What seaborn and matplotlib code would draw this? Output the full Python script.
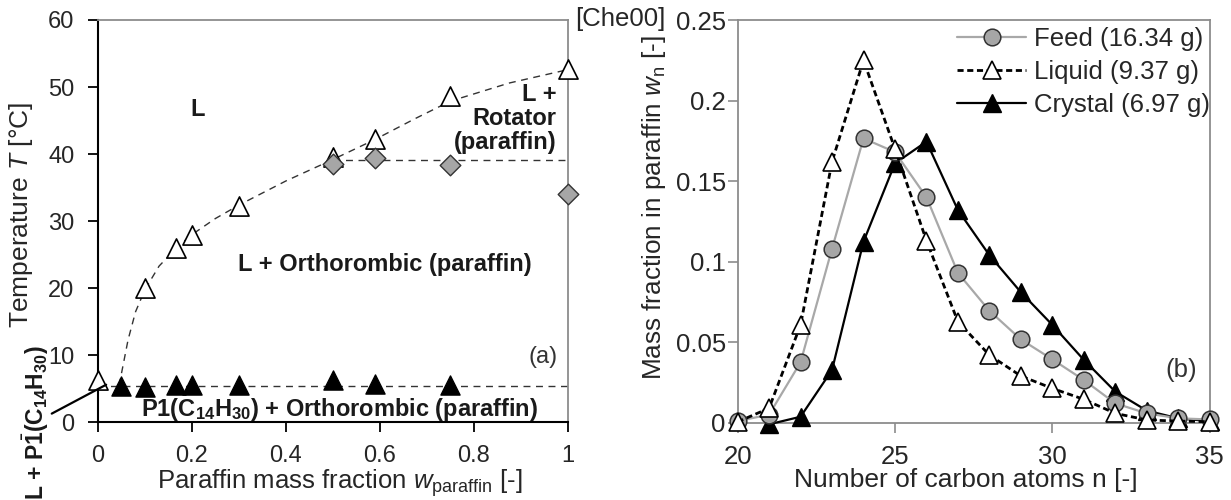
import numpy as np
import pandas as pd
import matplotlib
matplotlib.use("Agg")
import matplotlib.pyplot as plt
import seaborn as sns

# ---------------- data: panel (a) ----------------
liq_w = [0.0, 0.1, 0.167, 0.2, 0.3, 0.5, 0.59, 0.75, 1.0]
liq_T = [6.3, 20.0, 26.0, 27.9, 32.3, 39.6, 42.2, 48.6, 52.7]

rot_w = [0.5, 0.59, 0.75, 1.0]
rot_T = [38.5, 39.4, 38.3, 34.1]

sol_w = [0.05, 0.1, 0.167, 0.2, 0.3, 0.5, 0.59, 0.75]
sol_T = [5.4, 5.3, 5.6, 5.5, 5.6, 6.3, 5.7, 5.6]

# dashed liquidus guide curve
curve_w = [0.045, 0.05, 0.064, 0.08, 0.1, 0.13, 0.167, 0.2, 0.25, 0.3, 0.4, 0.5, 0.59, 0.675, 0.75, 0.875, 1.0]
curve_T = [5.5, 7.3, 12.3, 16.5, 19.8, 23.3, 26.0, 28.0, 30.4, 32.4, 36.0, 39.2, 42.2, 45.3, 47.9, 50.6, 52.6]

eutectic_w = [0.0, 1.0]
eutectic_T = [5.45, 5.45]
transition_w = [0.5, 1.0]
transition_T = [39.1, 39.1]

xticks_a = [0, 0.2, 0.4, 0.6, 0.8, 1.0]
xticklabels_a = ["0", "0.2", "0.4", "0.6", "0.8", "1"]
yticks_a = [0, 10, 20, 30, 40, 50, 60]

# ---------------- data: panel (b) ----------------
n_all = list(range(20, 36))
feed = [0.001, 0.005, 0.0375, 0.108, 0.1765, 0.168, 0.140, 0.093, 0.0695, 0.0517,
        0.0393, 0.0265, 0.012, 0.0058, 0.0027, 0.002]
liquid = [0.0005, 0.009, 0.0607, 0.162, 0.225, 0.170, 0.113, 0.0627, 0.042, 0.029,
          0.0213, 0.0145, 0.0058, 0.0017, 0.001, 0.0006]
n_cry = list(range(21, 36))
crystal = [-0.001, 0.0037, 0.0327, 0.1124, 0.161, 0.1745, 0.132, 0.104, 0.081, 0.0607,
           0.039, 0.0193, 0.0075, 0.0027, 0.001]
series_labels = ["Feed (16.34 g)", "Liquid (9.37 g)", "Crystal (6.97 g)"]

xticks_b = [20, 25, 30, 35]
yticks_b = [0, 0.05, 0.1, 0.15, 0.2, 0.25]
yticklabels_b = ["0", "0.05", "0.1", "0.15", "0.2", "0.25"]

# ---------------- style ----------------
sns.set_style("white")
plt.rcParams["font.family"] = ["Liberation Sans", "DejaVu Sans"]
plt.rcParams["mathtext.fontset"] = "custom"
plt.rcParams["mathtext.rm"] = "Liberation Sans"
plt.rcParams["mathtext.it"] = "Liberation Sans:italic"
plt.rcParams["mathtext.bf"] = "Liberation Sans:bold"

FS = 17
FSB = 18.5
GRAY_SPINE = "#8c8c8c"
MARK_GRAY = "#a6a6a6"

fig = plt.figure(figsize=(12.31, 5), dpi=100)
ax1 = fig.add_axes([0.0796, 0.1554, 0.3818, 0.8046])
ax2 = fig.add_axes([0.5992, 0.1546, 0.3835, 0.8054])

# ---------------- panel (a) ----------------
dash_kw = dict(color="#333333", lw=1.0, dashes=(5, 4), estimator=None, sort=False, legend=False)
sns.lineplot(x=eutectic_w, y=eutectic_T, ax=ax1, **dash_kw)
sns.lineplot(x=transition_w, y=transition_T, ax=ax1, **dash_kw)
sns.lineplot(x=curve_w, y=curve_T, ax=ax1, **dash_kw)

sns.scatterplot(x=liq_w, y=liq_T, ax=ax1, marker="^", s=190, facecolor="white",
                edgecolor="black", linewidth=1.2, clip_on=False, zorder=3, legend=False)
sns.scatterplot(x=rot_w, y=rot_T, ax=ax1, marker="D", s=110, facecolor=MARK_GRAY,
                edgecolor="#333333", linewidth=1.0, clip_on=False, zorder=4, legend=False)
sns.scatterplot(x=sol_w, y=sol_T, ax=ax1, marker="^", s=190, facecolor="black",
                edgecolor="black", linewidth=1.0, clip_on=False, zorder=3, legend=False)

ax1.set_xlim(0, 1)
ax1.set_ylim(0, 60)
ax1.set_xticks(xticks_a)
ax1.set_xticklabels(xticklabels_a)
ax1.set_yticks(yticks_a)
ax1.tick_params(axis="both", labelsize=FS, length=7, width=1.3, color="black", direction="out")
ax1.tick_params(axis="x", pad=9, bottom=True)
ax1.tick_params(axis="y", pad=10, left=True)
for side in ["left", "bottom"]:
    ax1.spines[side].set_color("black")
    ax1.spines[side].set_linewidth(1.5)
for side in ["top", "right"]:
    ax1.spines[side].set_color(GRAY_SPINE)
    ax1.spines[side].set_linewidth(1.3)

ax1.set_ylabel(r"Temperature $T$ [°C]", fontsize=19)
ax1.yaxis.set_label_coords(-0.135, 0.515)
ax1.set_xlabel(r"Paraffin mass fraction $w_{\mathrm{paraffin}}$ [-]", fontsize=18.5)
ax1.xaxis.set_label_coords(0.514, -0.112)

bold = dict(fontweight="bold", color="#1a1a1a")
ax1.text(0.212, 46.6, "L", ha="center", va="center", fontsize=FS, **bold)
ax1.text(0.975, 45.3, "L +\nRotator\n(paraffin)", ha="right", va="center", linespacing=1.05,
         fontsize=FS, **bold)
ax1.text(0.611, 23.5, "L + Orthorombic (paraffin)", ha="center", va="center", fontsize=FS, **bold)
ax1.text(0.515, 1.9, r"P1(C$_{\mathbf{14}}$H$_{\mathbf{30}}$) + Orthorombic (paraffin)",
         ha="center", va="center", fontsize=FS, **bold)
ax1.text(0.977, 9.8, "(a)", ha="right", va="center", fontsize=FS, color="#333333")
ax1.text(-0.133, 0.0, r"L + P$\bar{\mathbf{1}}$(C$_{\mathbf{14}}$H$_{\mathbf{30}}$)",
         rotation=90, ha="center", va="center", clip_on=False, fontsize=16.5, **bold)
ax1.annotate("", xy=(0.0226, 5.8), xytext=(-0.1036, 1.1),
             arrowprops=dict(arrowstyle="-", lw=1.6, color="black"),
             annotation_clip=False)

fig.text(575 / 1231, 0.962, "[Che00]", ha="left", va="center", fontsize=FSB)

# ---------------- panel (b) ----------------
df_feed = pd.DataFrame({"n": n_all, "w": feed})
df_liq = pd.DataFrame({"n": n_all, "w": liquid})
df_cry = pd.DataFrame({"n": n_cry, "w": crystal})

sns.lineplot(data=df_cry, x="n", y="w", ax=ax2, color="black", lw=1.6,
             marker="^", markersize=13, markerfacecolor="black", markeredgecolor="black",
             markeredgewidth=1.0, clip_on=False, zorder=3, estimator=None, legend=False)
line_cry = ax2.lines[-1]
sns.lineplot(data=df_feed, x="n", y="w", ax=ax2, color="#a8a8a8", lw=1.6,
             marker="o", markersize=12, markerfacecolor=MARK_GRAY, markeredgecolor="#333333",
             markeredgewidth=1.1, clip_on=False, zorder=4, estimator=None, legend=False)
line_feed = ax2.lines[-1]
sns.lineplot(data=df_liq, x="n", y="w", ax=ax2, color="black", lw=2.0, dashes=(2.2, 1.3),
             marker="^", markersize=13, markerfacecolor="white", markeredgecolor="black",
             markeredgewidth=1.2, clip_on=False, zorder=5, estimator=None, legend=False)
line_liq = ax2.lines[-1]

ax2.set_xlim(20, 35)
ax2.set_ylim(0, 0.25)
ax2.set_xticks(xticks_b)
ax2.set_yticks(yticks_b)
ax2.set_yticklabels(yticklabels_b)
ax2.tick_params(axis="both", labelsize=FSB, length=7, width=1.2, color=GRAY_SPINE, direction="out")
ax2.tick_params(axis="x", pad=9, bottom=True)
ax2.tick_params(axis="y", pad=1.5, left=True)
for side in ["left", "bottom", "top", "right"]:
    ax2.spines[side].set_color(GRAY_SPINE)
    ax2.spines[side].set_linewidth(1.3)

ax2.set_ylabel(r"Mass fraction in paraffin $w_{\mathrm{n}}$ [-]", fontsize=18.8)
ax2.yaxis.set_label_coords(-0.147, 0.535)
ax2.set_xlabel("Number of carbon atoms n [-]", fontsize=19)
ax2.xaxis.set_label_coords(0.483, -0.112)
ax2.text(34.1, 0.033, "(b)", ha="center", va="center", fontsize=FSB, color="#333333")

leg = ax2.legend([line_feed, line_liq, line_cry], series_labels, loc="upper right",
                 bbox_to_anchor=(1.006, 0.99), frameon=False, fontsize=FSB,
                 handlelength=2.7, handletextpad=0.3, labelspacing=0.35,
                 borderaxespad=0.0, borderpad=0.1)

fig.savefig("out.png", dpi=100)
